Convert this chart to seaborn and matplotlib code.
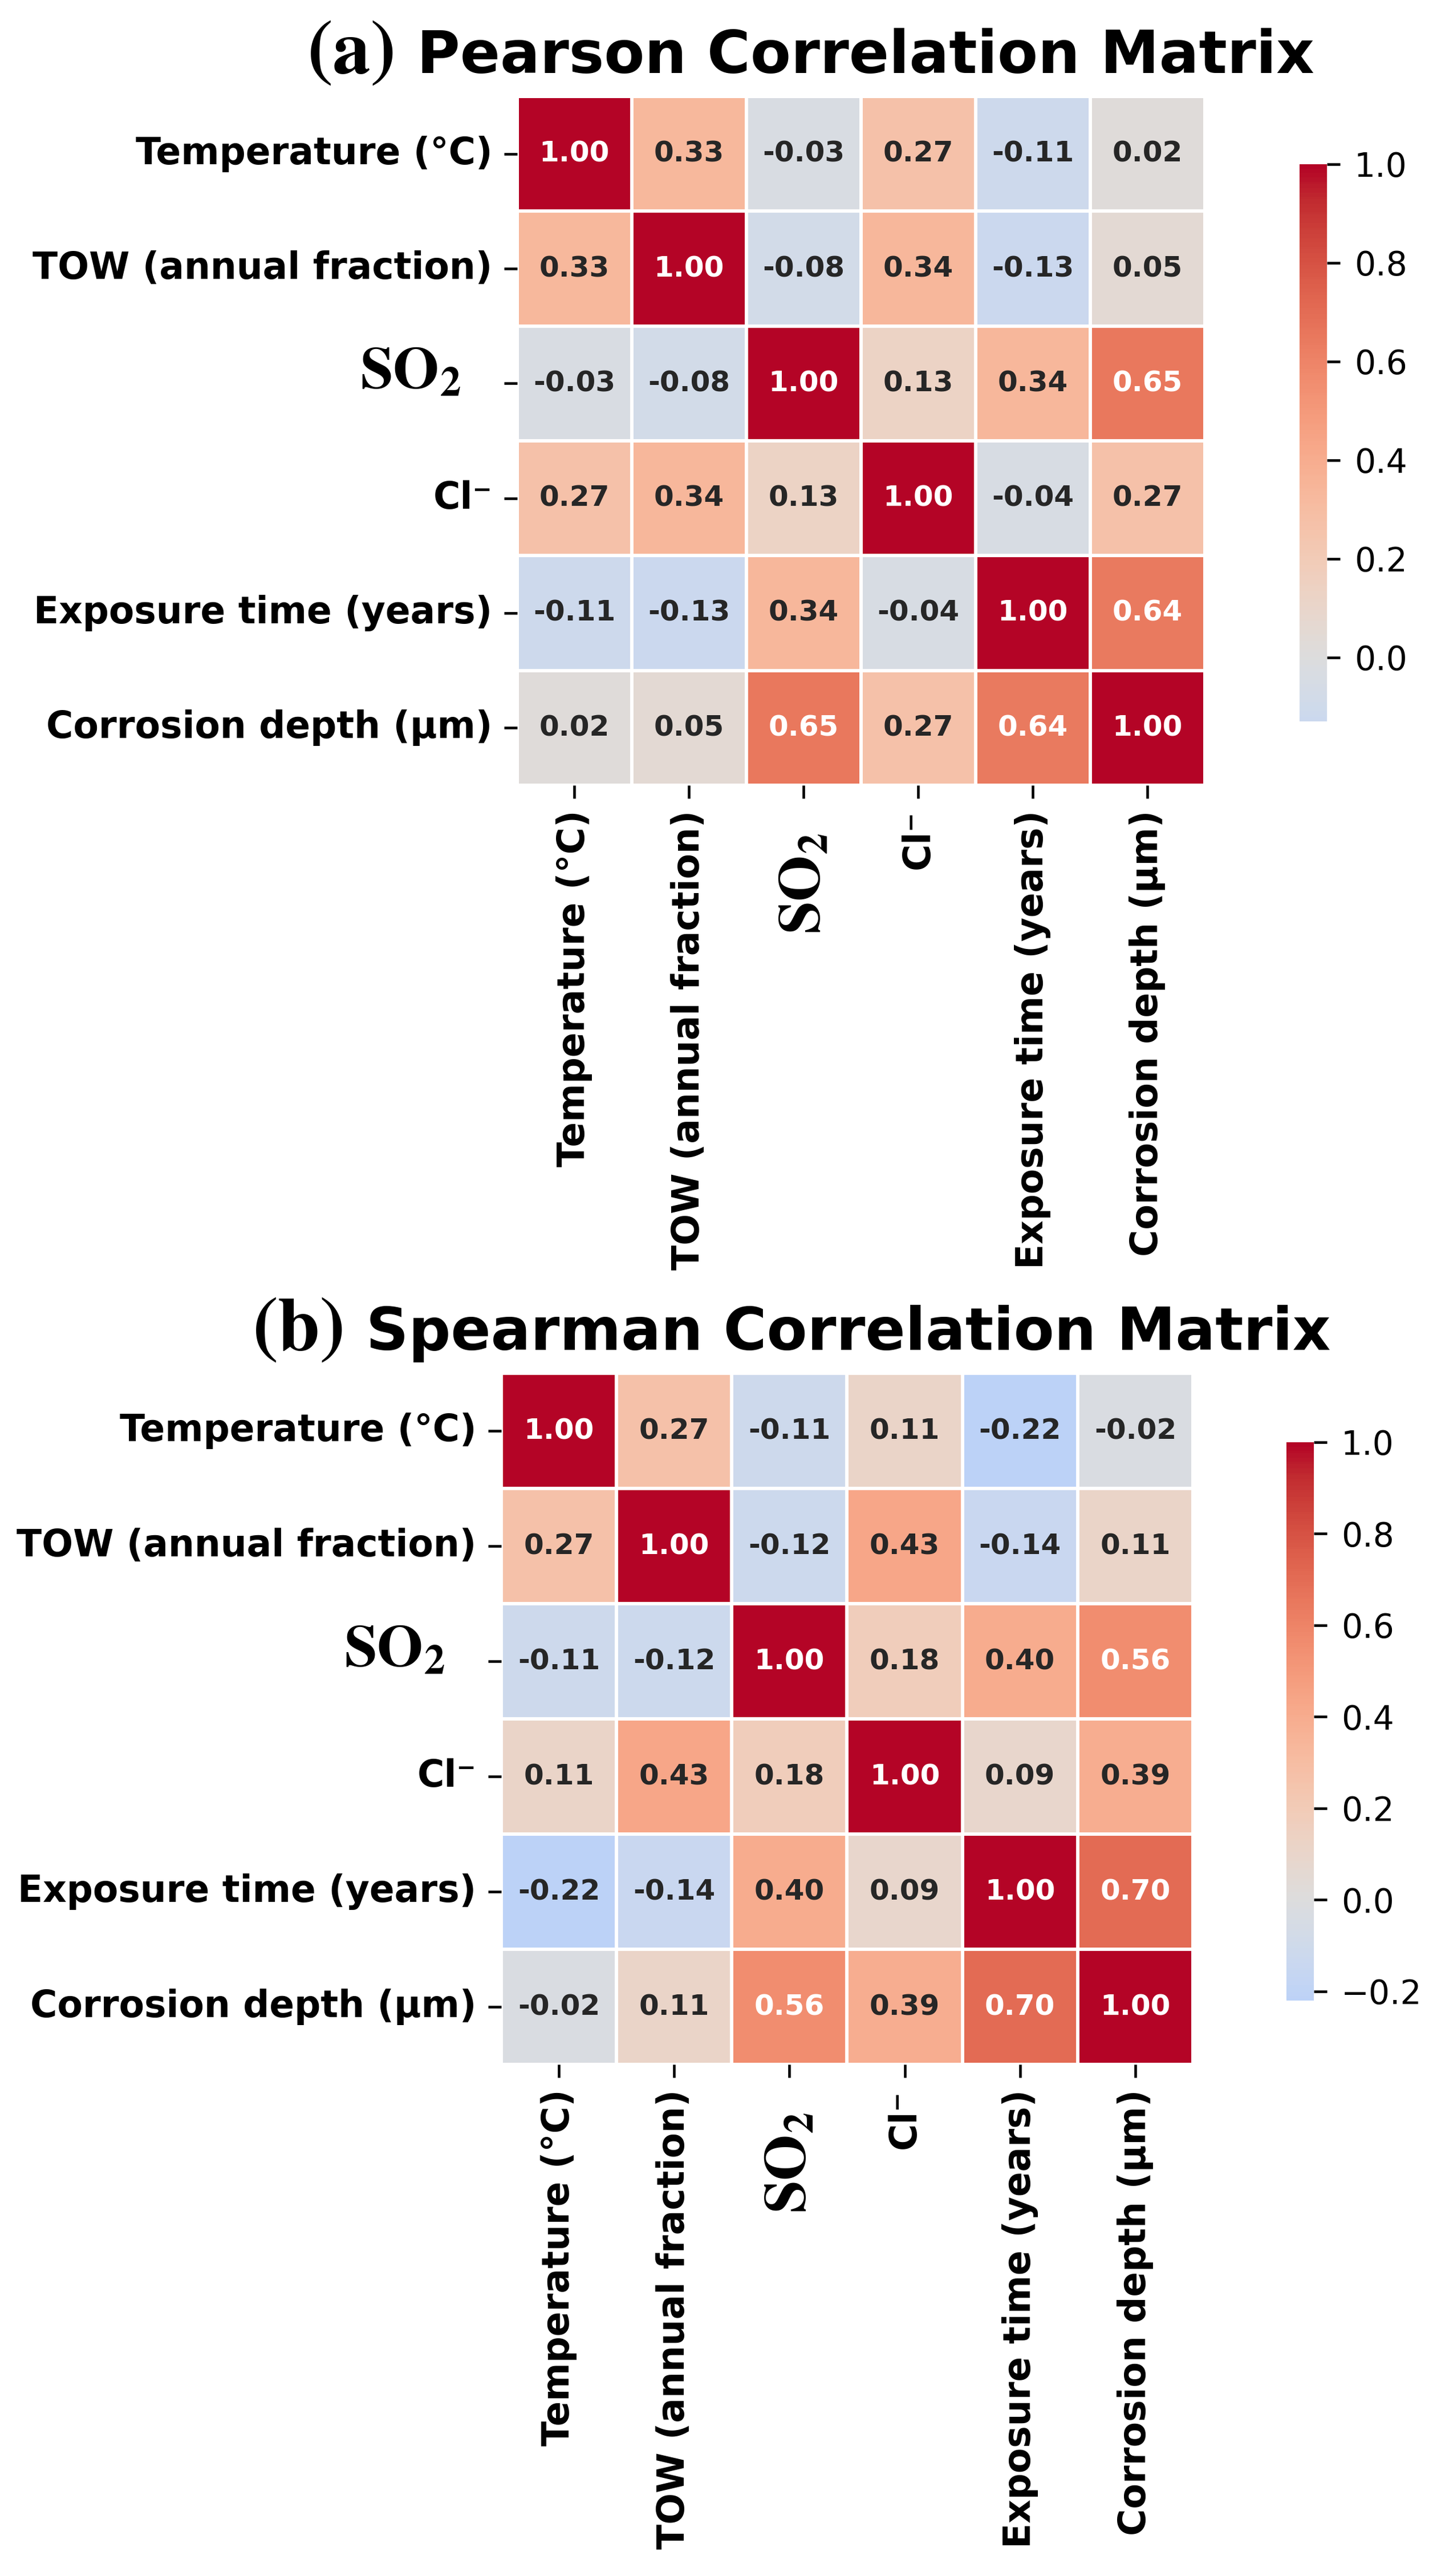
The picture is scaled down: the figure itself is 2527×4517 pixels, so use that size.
import numpy as np
import pandas as pd
import matplotlib
matplotlib.use("Agg")
import matplotlib.pyplot as plt
import matplotlib.transforms as mtransforms
import seaborn as sns

# ---------------- data ----------------
labels = ["Temperature (°C)", "TOW (annual fraction)", r"$\mathbf{SO_2}$",
          "Cl⁻", "Exposure time (years)", "Corrosion depth (μm)"]

pearson_rows = [
    [1.00, 0.33, -0.03, 0.27, -0.11, 0.02],
    [0.33, 1.00, -0.08, 0.34, -0.13, 0.05],
    [-0.03, -0.08, 1.00, 0.13, 0.34, 0.65],
    [0.27, 0.34, 0.13, 1.00, -0.04, 0.27],
    [-0.11, -0.13, 0.34, -0.04, 1.00, 0.64],
    [0.02, 0.05, 0.65, 0.27, 0.64, 1.00],
]
spearman_rows = [
    [1.00, 0.27, -0.11, 0.11, -0.22, -0.02],
    [0.27, 1.00, -0.12, 0.43, -0.14, 0.11],
    [-0.11, -0.12, 1.00, 0.18, 0.40, 0.56],
    [0.11, 0.43, 0.18, 1.00, 0.09, 0.39],
    [-0.22, -0.14, 0.40, 0.09, 1.00, 0.70],
    [-0.02, 0.11, 0.56, 0.39, 0.70, 1.00],
]
panel_tags = [r"$\mathbf{(a)}$", r"$\mathbf{(b)}$"]
titles = ["Pearson Correlation Matrix", "Spearman Correlation Matrix"]

# ---------------- style ----------------
plt.rcParams["font.family"] = ["DejaVu Sans"]
plt.rcParams["mathtext.fontset"] = "stix"

W, H = 2528, 4517
DPI = 300
fig = plt.figure(figsize=(W / DPI, H / DPI), dpi=DPI)

def box(x0, y0, x1, y1):
    return [x0 / W, 1 - y1 / H, (x1 - x0) / W, (y1 - y0) / H]

layouts = [
    dict(hm=box(907, 169, 2113, 1377), cb=box(2279, 288, 2327, 1265),
         tag_x=689, title_x=731, base=128),
    dict(hm=box(879, 2408, 2092, 3620), cb=box(2256, 2529, 2304, 3508),
         tag_x=601, title_x=642, base=2367),
]

for rows, tag, title, lay in zip([pearson_rows, spearman_rows], panel_tags,
                                 titles, layouts):
    df = pd.DataFrame(rows, index=labels, columns=labels)
    ax = fig.add_axes(lay["hm"])
    cax = fig.add_axes(lay["cb"])
    sns.heatmap(df, ax=ax, cbar_ax=cax, cmap="coolwarm", center=0,
                annot=True, fmt=".2f", linewidths=1.0, linecolor="white",
                annot_kws={"fontsize": 12, "fontweight": "bold"},
                xticklabels=labels, yticklabels=labels)
    ax.tick_params(axis="both", which="major", pad=5, length=5.5, width=1.1)
    for t in ax.get_yticklabels():
        t.set_rotation(0)
        t.set_fontweight("bold")
        t.set_fontsize(15.5)
        t.set_color("black")
        if "SO" in t.get_text():
            t.set_fontsize(25)
            t.set_transform(t.get_transform() + mtransforms.ScaledTranslation(
                -55 / DPI, 20 / DPI, fig.dpi_scale_trans))
    for t in ax.get_xticklabels():
        t.set_rotation(90)
        t.set_fontweight("bold")
        t.set_fontsize(15.5)
        t.set_color("black")
        if "SO" in t.get_text():
            t.set_fontsize(25)
            t.set_transform(t.get_transform() + mtransforms.ScaledTranslation(
                0, -40 / DPI, fig.dpi_scale_trans))
    cax.tick_params(labelsize=14, length=5.5, width=1.1, pad=6)
    yb = 1 - lay["base"] / H
    fig.text(lay["tag_x"] / W, yb, tag, fontsize=32,
             ha="right", va="baseline")
    fig.text(lay["title_x"] / W, yb, title, fontsize=24.8, fontweight="bold",
             ha="left", va="baseline")

fig.savefig("out.png", dpi=DPI, facecolor="white")
